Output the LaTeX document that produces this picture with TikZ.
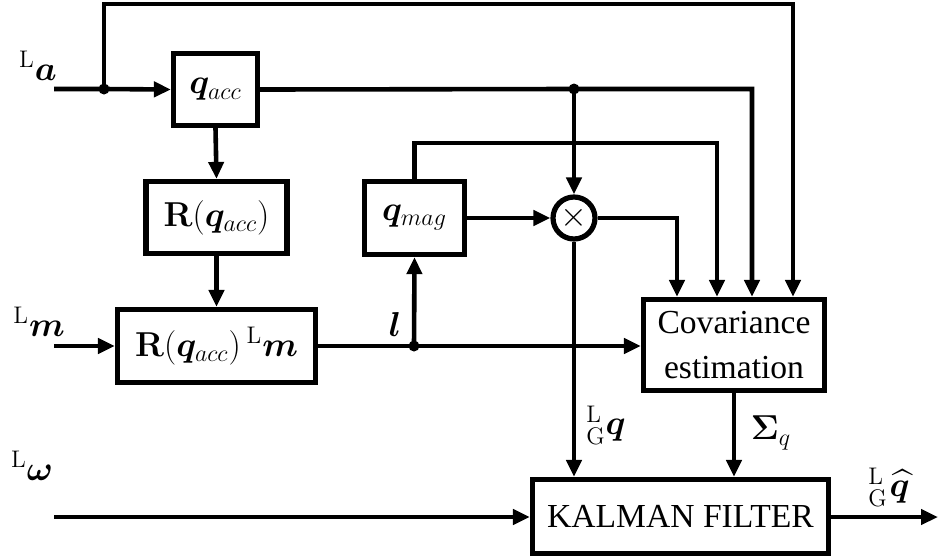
\documentclass[tikz,border=0pt]{standalone}
\usepackage{amsmath,amssymb,bm}
\usepackage[no-math]{fontspec}
\setmainfont{Liberation Serif}
\usetikzlibrary{arrows.meta,calc}
\begin{document}
\begin{tikzpicture}[x=0.5pt,y=-0.5pt, line width=2.3pt,
 blk/.style={draw, line width=2.6pt, inner sep=0pt, font=\fontsize{18.5}{22}\selectfont},
 txt/.style={draw, line width=2.6pt, inner sep=0pt, align=center, font=\rmfamily\fontsize{16.8}{22.5}\selectfont},
 arr/.style={-{Triangle[length=8.5pt,width=7.5pt]}},
 jdot/.style={circle, fill, inner sep=0pt, minimum size=5.5pt},
 lbl/.style={font=\fontsize{18.5}{22}\selectfont, inner sep=0pt}]
\useasboundingbox (0,0) rectangle (940,558);

% blocks
\node[blk, minimum width=42pt, minimum height=36pt] (qacc) at (215.5,89.5) {$\bm{q}_{acc}$};
\node[blk, minimum width=70.5pt, minimum height=36pt] (Rq) at (216.5,217.5) {$\mathbf{R}(\bm{q}_{acc})$};
\node[blk, minimum width=99pt, minimum height=36.5pt] (Rm) at (216.5,346) {$\mathbf{R}(\bm{q}_{acc})\,{}^{\mathrm{L}}\bm{m}$};
\node[blk, minimum width=50pt, minimum height=36.5pt] (qmag) at (414.5,218) {$\bm{q}_{mag}$};
\node[blk, circle, minimum size=21pt, font=\fontsize{19}{21}\selectfont] (mult) at (574,218) {$\times$};
\node[txt, minimum width=90.5pt, minimum height=45.5pt] (cov) at (734,345) {Covariance\\estimation};
\node[txt, minimum width=148pt, minimum height=37pt] (kf) at (680.5,516.5) {KALMAN FILTER};

% junctions and free ends
\node[jdot] (ja) at (104,89) {};
\node[jdot] (jl) at (414,346) {};
\node[jdot] (jq) at (574,89) {};
\coordinate (ina) at (54,89);
\coordinate (inm) at (54,346);
\coordinate (inw) at (54,517);
\coordinate (out) at (938,517);
\coordinate (top) at (104,4);
\coordinate (c1) at (677,0);
\coordinate (c2) at (717,143);
\coordinate (c3) at (752,0);
\coordinate (c4) at (793,0);

% connectors
\draw[arr] (ina) -- (ja.center) -- (qacc.west);
\draw[arr] (ja.center) -- (top) -| (c4 |- cov.north);
\draw[arr] (qacc.east) -- (jq.center) -| (c3 |- cov.north);
\draw[arr] (jq.center) -- (mult.north);
\draw[arr] (qacc.south) -- (Rq.north);
\draw[arr] (Rq.south) -- (Rm.north);
\draw[arr] (inm) -- (Rm.west);
\draw[arr] (Rm.east) -- (jl.center) -- (jl.center -| cov.west);
\draw[arr] (jl.center) -- (qmag.south);
\draw[arr] (qmag.north) |- (c2) -- (c2 |- cov.north);
\draw[arr] (qmag.east) -- (mult.west);
\draw[arr] (mult.east) -| (c1 |- cov.north);
\draw[arr] (mult.south) -- (mult.south |- kf.north);
\draw[arr] (cov.south) -- (cov.south |- kf.north);
\draw[arr] (inw) -- (inw -| kf.west);
\draw[arr] (kf.east |- out) -- (out);

% labels
\node[lbl] (la) at (38,66) {${}^{\mathrm{L}}\bm{a}$};
\node[lbl] (lm) at (39,322) {${}^{\mathrm{L}}\bm{m}$};
\node[lbl] (ll) at (395,324) {$\bm{l}$};
\node[lbl] (lw) at (32,466) {${}^{\mathrm{L}}\bm{\omega}$};
\node[lbl] (lgq) at (606,425) {${}^{\mathrm{L}}_{\mathrm{G}}\bm{q}$};
\node[lbl] (ls) at (771,433) {$\bm{\Sigma}_{q}$};
\node[lbl] (lqh) at (889,487) {${}^{\mathrm{L}}_{\mathrm{G}}\mkern1mu\widehat{\bm{q}}$};
\end{tikzpicture}
\end{document}
